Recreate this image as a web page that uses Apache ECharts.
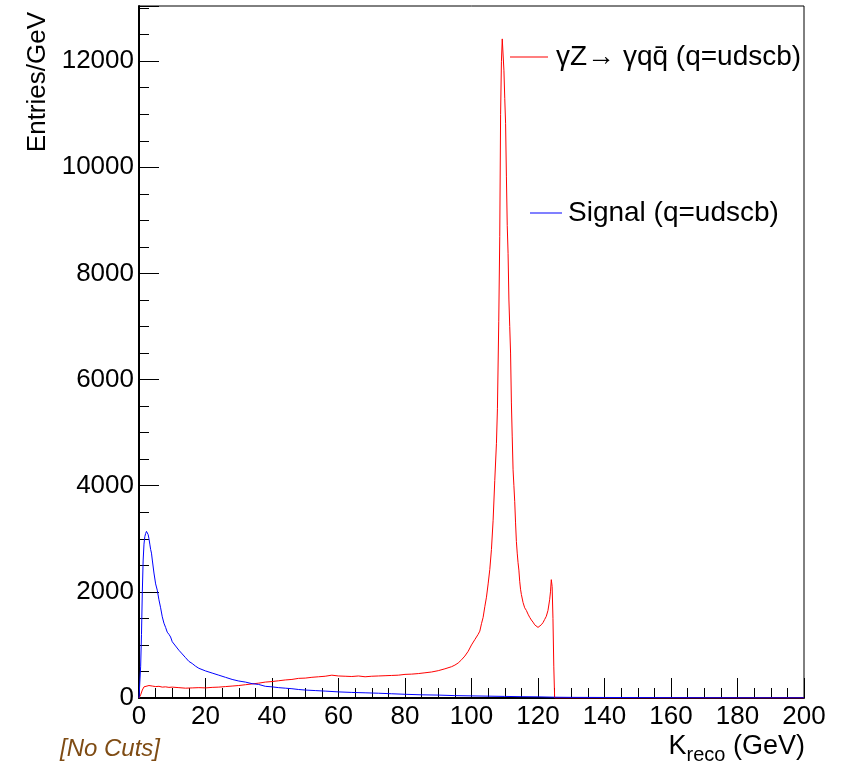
<!DOCTYPE html>
<html>
<head>
<meta charset="utf-8">
<script src="https://cdn.jsdelivr.net/npm/echarts@6/dist/echarts.min.js"></script>
<style>
  html, body { margin: 0; padding: 0; background: #fff; }
  #chart { width: 841px; height: 765px; }
</style>
</head>
<body>
<div id="chart"></div>
<script>
// gamma Z -> gamma q qbar background, K_reco in GeV
const bkgX = [0, 0.5, 1, 1.5, 2, 3, 4, 5, 6, 7, 8, 9, 10, 12, 14, 16, 18, 20, 22, 24, 26, 28, 30,
  32, 34, 36, 38, 40, 42, 44, 46, 48, 50, 52, 54, 56, 58, 60, 62, 64, 66, 68, 70, 72, 74, 76, 78,
  80, 82, 84, 86, 88, 90, 92, 94, 95, 96, 97, 98, 99, 100, 101, 102, 102.5, 103, 103.5, 104,
  104.5, 105, 105.5, 106, 106.5, 107, 107.5, 107.8, 108.2, 108.5, 108.75, 109, 109.25, 109.5,
  109.75, 110, 110.25, 110.5, 110.75, 111, 111.25, 111.5, 111.75, 112, 112.25, 112.5, 112.75,
  113, 113.25, 113.5, 113.75, 114, 114.25, 114.5, 114.75, 115, 115.5, 116, 116.5, 117, 117.5,
  118, 118.5, 119, 119.5, 120, 120.5, 121, 121.5, 122, 122.5, 123, 123.5, 123.75, 124, 124.25,
  124.5, 124.75, 125, 130, 150, 200];
const bkgY = [0, 60, 150, 210, 240, 235, 225, 215, 220, 205, 210, 200, 205, 195, 185, 190, 195,
  190, 200, 205, 215, 225, 235, 250, 265, 280, 300, 310, 325, 340, 350, 370, 375, 390, 400, 410,
  430, 415, 410, 405, 415, 400, 410, 415, 420, 425, 430, 445, 450, 460, 475, 490, 515, 550, 590,
  620, 660, 720, 790, 880, 1000, 1100, 1200, 1260, 1400, 1520, 1720, 1900, 2150, 2420, 2800,
  3350, 4100, 4800, 5450, 7100, 8700, 11000, 12000, 12420, 12400, 11830, 11300, 10830, 9820,
  8900, 8380, 7500, 7000, 6500, 5560, 4920, 4300, 4000, 3700, 3300, 2950, 2730, 2550, 2410,
  2200, 2050, 1950, 1800, 1700, 1650, 1580, 1520, 1470, 1430, 1380, 1350, 1330, 1340, 1380,
  1420, 1480, 1540, 1650, 1850, 2000, 2230, 2100, 1500, 600, 0, 0, 0, 0];

// signal
const sigX = [0, 0.25, 0.5, 0.75, 1, 1.25, 1.5, 1.75, 2, 2.25, 2.5, 2.75, 3, 3.25, 3.5, 3.75, 4,
  4.5, 5, 5.5, 6, 6.5, 7, 7.5, 8, 8.5, 9, 9.5, 10, 11, 12, 13, 14, 15, 16, 17, 18, 20, 22, 24,
  26, 28, 30, 32, 34, 36, 38, 40, 42, 44, 46, 48, 50, 53, 56, 60, 64, 68, 72, 76, 80, 85, 90,
  95, 100, 105, 110, 115, 120, 125, 130, 140, 150, 160, 170, 180, 190, 200];
const sigY = [0, 300, 600, 1200, 2000, 2600, 2900, 3040, 3100, 3140, 3130, 3080, 3000, 2900,
  2800, 2730, 2600, 2355, 2150, 2030, 1850, 1700, 1530, 1410, 1330, 1240, 1200, 1150, 1060, 980,
  900, 830, 760, 690, 650, 600, 560, 510, 470, 430, 390, 350, 320, 300, 270, 255, 220, 210, 195,
  185, 175, 160, 150, 140, 130, 115, 105, 98, 90, 80, 70, 60, 55, 45, 40, 35, 30, 25, 22, 15,
  12, 10, 8, 6, 5, 4, 3, 3];

const bkgName = 'γZ→ γqq\u0304 (q=udscb)';
const sigName = 'Signal (q=udscb)';
const yMajor = 2000;
const yMinor = 500;
const yMax = 13040;

const font = "'Liberation Sans', Arial, sans-serif";

const chart = echarts.init(document.getElementById('chart'));

chart.setOption({
  animation: false,
  backgroundColor: '#fff',
  grid: {
    left: 139, right: 37, top: 6, bottom: 67,
    show: true, borderColor: '#000', borderWidth: 1
  },
  legend: [
    {
      data: [bkgName], left: 510, top: 43, itemWidth: 38, itemHeight: 1, icon: 'rect',
      itemGap: 0, textStyle: { fontFamily: font, fontSize: 28, color: '#000', padding: [0, 0, 0, 3] },
      padding: 0
    },
    {
      data: [sigName], left: 530, top: 199, itemWidth: 32, itemHeight: 1, icon: 'rect',
      itemGap: 0, textStyle: { fontFamily: font, fontSize: 28, color: '#000', padding: [0, 0, 0, 1] },
      padding: 0
    }
  ],
  xAxis: {
    type: 'value', min: 0, max: 200, interval: 20,
    axisLine: { lineStyle: { color: '#000', width: 2 } },
    axisTick: { inside: true, length: 20, lineStyle: { color: '#000', width: 1 } },
    minorTick: { show: true, splitNumber: 4, length: 10, lineStyle: { color: '#000', width: 1 } },
    splitLine: { show: false },
    axisLabel: { fontFamily: font, fontSize: 26, color: '#000', margin: 6 }
  },
  yAxis: [
    {
      type: 'value', min: 0, max: yMax, interval: yMajor, position: 'left',
      axisLine: { show: true, lineStyle: { color: '#000', width: 2 } },
      axisTick: { show: true, inside: true, length: 20, lineStyle: { color: '#000', width: 1 } },
      splitLine: { show: false },
      axisLabel: {
        fontFamily: font, fontSize: 26, color: '#000', margin: 5,
        formatter: (v) => (v % yMajor === 0 ? String(v) : '')
      }
    },
    {
      type: 'value', min: 0, max: yMax, interval: yMinor, position: 'left',
      axisLine: { show: false },
      axisTick: { show: true, inside: true, length: 10, lineStyle: { color: '#000', width: 1 } },
      splitLine: { show: false },
      axisLabel: { show: false }
    }
  ],
  series: [
    {
      name: bkgName, type: 'line', showSymbol: false, symbol: 'none',
      color: '#ff0000', lineStyle: { color: '#ff0000', width: 1 },
      data: bkgX.map((x, i) => [x, bkgY[i]])
    },
    {
      name: sigName, type: 'line', showSymbol: false, symbol: 'none',
      color: '#0000ff', lineStyle: { color: '#0000ff', width: 1 },
      data: sigX.map((x, i) => [x, sigY[i]])
    }
  ],
  graphic: [
    {
      type: 'text', x: 38, y: 12, rotation: Math.PI / 2,
      style: {
        text: 'Entries/GeV', font: '26px ' + font, fill: '#000',
        align: 'right', verticalAlign: 'middle'
      }
    },
    {
      type: 'text', x: 805, y: 745,
      style: {
        text: '{k|K}{s|reco}{k| (GeV)}',
        align: 'right', verticalAlign: 'middle',
        rich: {
          k: { fontFamily: font, fontSize: 27, fill: '#000', lineHeight: 30, verticalAlign: 'bottom' },
          s: { fontFamily: font, fontSize: 20, fill: '#000', lineHeight: 20, verticalAlign: 'bottom', padding: [0, 0, -5, 0] }
        }
      }
    },
    {
      type: 'text', x: 60, y: 749,
      style: {
        text: '[No Cuts]', font: 'italic 24px ' + font, fill: '#7f4c14',
        align: 'left', verticalAlign: 'middle'
      }
    }
  ]
});
</script>
</body>
</html>
